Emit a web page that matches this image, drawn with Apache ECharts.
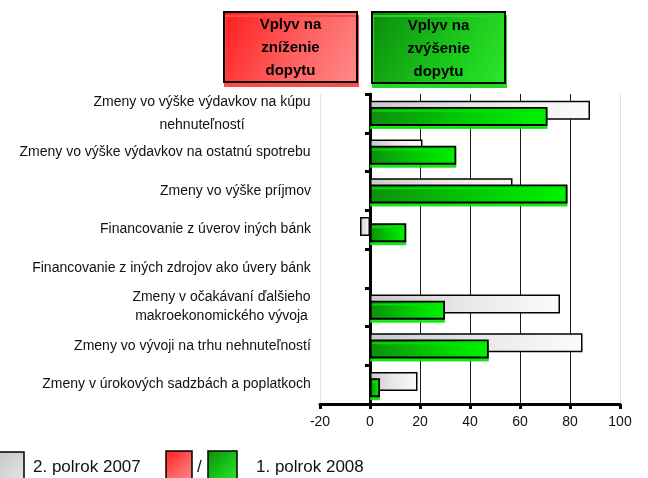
<!DOCTYPE html>
<html><head><meta charset="utf-8">
<script src="https://cdn.jsdelivr.net/npm/echarts@6/dist/echarts.min.js"></script>
<style>html,body{margin:0;padding:0;background:#fff}#c{width:648px;height:478px}</style>
</head><body><div id="c"></div>
<script>
// ---- data ----
const categories = [
  'Zmeny vo výške výdavkov na kúpu\nnehnuteľností',
  'Zmeny vo výške výdavkov na ostatnú spotrebu',
  'Zmeny vo výške príjmov',
  'Financovanie z úverov iných bánk',
  'Financovanie z iných zdrojov ako úvery bánk',
  'Zmeny v očakávaní ďalšieho\nmakroekonomického vývoja',
  'Zmeny vo vývoji na trhu nehnuteľností',
  'Zmeny v úrokových sadzbách a poplatkoch'
];
const seriesNames = ['2. polrok 2007', '1. polrok 2008'];
const values2007 = [88, 21, 57, -4, null, 76, 85, 19];
const values2008 = [71, 34.5, 79, 14.5, null, 30, 47.5, 4];
const xMin = -20, xMax = 100, xStep = 20;
const headerLeft = 'Vplyv na\nzníženie\ndopytu';
const headerRight = 'Vplyv na\nzvýšenie\ndopytu';

// ---- styling helpers ----
const FONT = 'Liberation Sans, Arial, sans-serif';
const LABEL_SIZE = 14;
function textW(t, size, weight) {
  const c = document.createElement('canvas').getContext('2d');
  c.font = (weight || 'normal') + ' ' + size + 'px ' + FONT;
  return c.measureText(t).width;
}
const rich = {};
categories.forEach((cat, i) => {
  const lines = cat.split('\n');
  rich['m' + i] = {
    width: Math.ceil(Math.max(...lines.map(l => textW(l, LABEL_SIZE)))),
    align: 'center',
    fontSize: LABEL_SIZE,
    fontFamily: FONT,
    color: '#111',
    lineHeight: i === 0 ? 23 : 19
  };
});

const lg = (stops, x2, y2) => ({type: 'linear', x: 0, y: 0, x2: x2, y2: y2,
  colorStops: stops.map((c, i) => ({offset: i / (stops.length - 1), color: c}))});
const grayFill = lg(['#c9c9c9', '#e8e8e8', '#fbfbfb'], 1, 0);
const greenFill = lg(['#0e8e0e', '#00c800', '#00f400'], 1, 0);
const redBox = lg(['#ff1c1c', '#ff5a5a', '#ff8c8c'], 1, 1);
const greenBox = lg(['#0c8a0c', '#18c018', '#2ce82c'], 1, 1);

const chart = echarts.init(document.getElementById('c'), null, {renderer: 'canvas'});
chart.setOption({
  backgroundColor: '#fff',
  animation: false,
  grid: {left: 320, right: 28, top: 94, bottom: 74, containLabel: false, outerBoundsMode: 'none'},
  xAxis: {
    type: 'value', min: xMin, max: xMax, interval: xStep,
    axisLine: {show: true, lineStyle: {color: '#000', width: 3}},
    axisTick: {show: true, length: 5, lineStyle: {color: '#000', width: 3}},
    axisLabel: {fontSize: 14, fontFamily: FONT, color: '#111', margin: 11},
    splitLine: {show: true, lineStyle: {width: 1,
      color: ['#e2e2e2', '#000', '#1a1a1a', '#1a1a1a', '#1a1a1a', '#1a1a1a', '#e2e2e2']}}
  },
  yAxis: {
    type: 'category', data: categories, inverse: true,
    axisLine: {show: true, onZero: true, lineStyle: {color: '#000', width: 3}},
    axisTick: {show: true, length: 5, lineStyle: {color: '#000', width: 3}},
    axisLabel: {
      margin: 9, fontSize: LABEL_SIZE, fontFamily: FONT, color: '#111',
      formatter: (v, i) => '{m' + i + '|' + v + '}', rich: rich
    },
    splitLine: {show: false}
  },
  series: [
    {
      name: seriesNames[0], type: 'bar', data: values2007,
      barWidth: 19, barGap: '-68%',
      itemStyle: {color: grayFill, borderColor: '#000', borderWidth: 1.5}
    },
    {
      name: seriesNames[1], type: 'bar', data: values2008,
      barWidth: 19,
      itemStyle: {color: greenFill, borderColor: '#000', borderWidth: 1.8,
        shadowColor: 'rgba(0,230,0,0.85)', shadowOffsetY: 3, shadowOffsetX: 0, shadowBlur: 0}
    }
  ],
  graphic: [
    {type: 'rect', shape: {x: 224, y: 12, width: 133, height: 70},
      style: {fill: redBox, stroke: '#000', lineWidth: 2,
        shadowColor: '#ff4a4a', shadowOffsetY: 4, shadowOffsetX: 1, shadowBlur: 0}},
    {type: 'text', x: 290.5, y: 47.5,
      style: {text: headerLeft, align: 'center', verticalAlign: 'middle',
        font: 'bold 15px ' + FONT, fill: '#000', lineHeight: 23}},
    {type: 'rect', shape: {x: 372, y: 12, width: 133, height: 71},
      style: {fill: greenBox, stroke: '#000', lineWidth: 2,
        shadowColor: '#22d822', shadowOffsetY: 4, shadowOffsetX: 1, shadowBlur: 0}},
    {type: 'text', x: 438.5, y: 48.5,
      style: {text: headerRight, align: 'center', verticalAlign: 'middle',
        font: 'bold 15px ' + FONT, fill: '#000', lineHeight: 23}},
    // legend
    {type: 'rect', shape: {x: -4, y: 452, width: 28, height: 30},
      style: {fill: lg(['#c4c4c4', '#e6e6e6'], 1, 1), stroke: '#000', lineWidth: 1.5}},
    {type: 'text', x: 33, y: 467,
      style: {text: seriesNames[0], align: 'left', verticalAlign: 'middle',
        font: '17px ' + FONT, fill: '#111'}},
    {type: 'rect', shape: {x: 166, y: 451, width: 26, height: 30},
      style: {fill: redBox, stroke: '#000', lineWidth: 1.5}},
    {type: 'text', x: 197, y: 467,
      style: {text: '/', align: 'left', verticalAlign: 'middle', font: '17px ' + FONT, fill: '#111'}},
    {type: 'rect', shape: {x: 208, y: 451, width: 29, height: 30},
      style: {fill: greenBox, stroke: '#000', lineWidth: 1.5}},
    {type: 'text', x: 256, y: 467,
      style: {text: seriesNames[1], align: 'left', verticalAlign: 'middle',
        font: '17px ' + FONT, fill: '#111'}}
  ]
});
</script></body></html>
